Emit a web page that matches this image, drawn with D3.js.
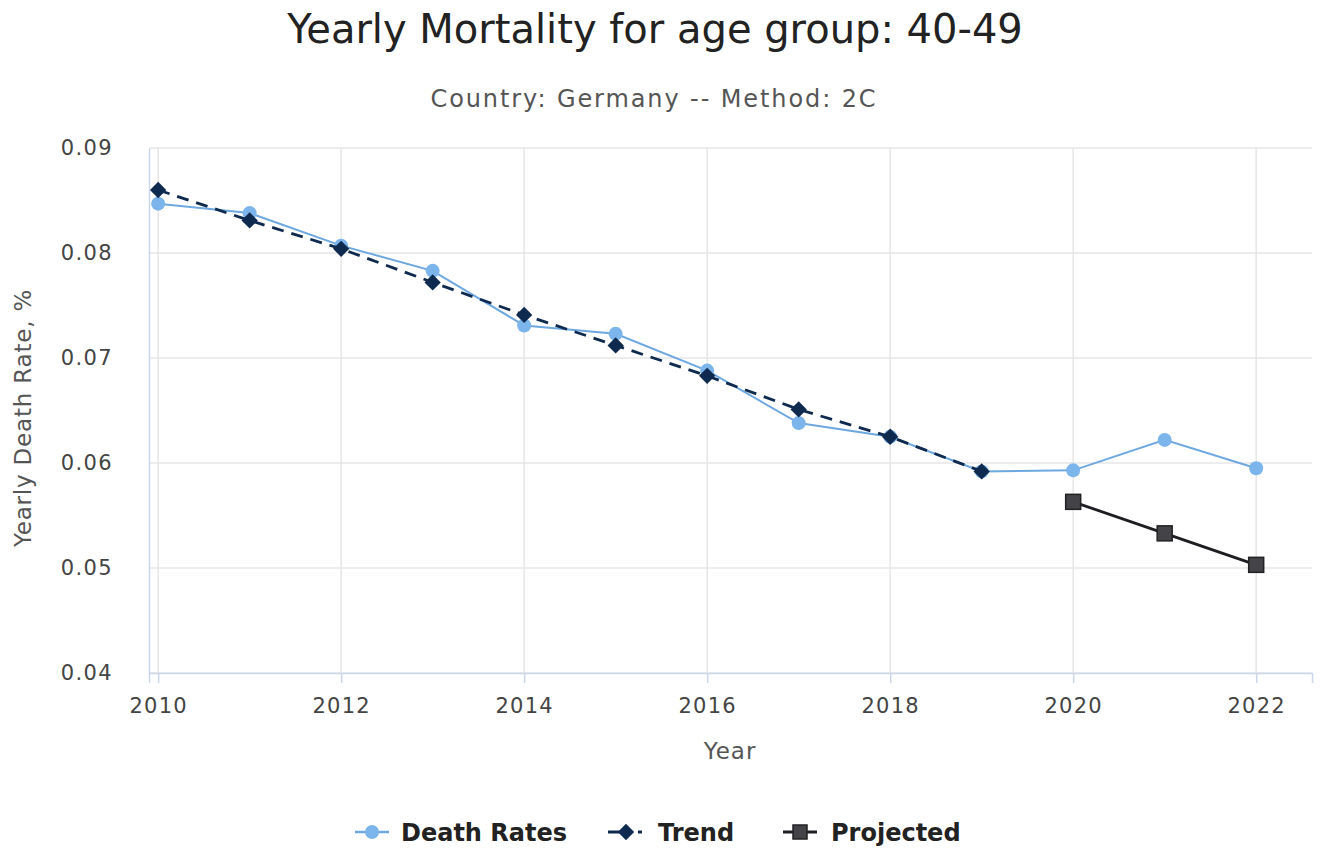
<!DOCTYPE html>
<html><head><meta charset="utf-8">
<script src="https://cdn.jsdelivr.net/npm/d3@7"></script>
<style>body{margin:0;background:#fff}svg{display:block}text{font-family:"DejaVu Sans",sans-serif}</style>
</head><body>
<svg id="chart" width="1322" height="852"></svg>
<script>
const years = [2010,2011,2012,2013,2014,2015,2016,2017,2018,2019,2020,2021,2022];
const deathRates = [0.0847,0.0838,0.0807,0.0783,0.0731,0.0723,0.0688,0.0638,0.0625,0.0592,0.0593,0.0622,0.0595];
const trendYears = [2010,2011,2012,2013,2014,2015,2016,2017,2018,2019];
const trend = [0.0860,0.0831,0.0804,0.0772,0.0741,0.0712,0.0683,0.0651,0.0625,0.0592];
const projYears = [2020,2021,2022];
const projected = [0.0563,0.0533,0.0503];
const xTicks = [2010,2012,2014,2016,2018,2020,2022];
const yTicks = [0.04,0.05,0.06,0.07,0.08,0.09];
const titleText = "Yearly Mortality for age group: 40-49";
const subtitleText = "Country: Germany -- Method: 2C";
const seriesNames = ["Death Rates","Trend","Projected"];

const svg = d3.select("#chart");
const L=149,R=1312,T=148,B=673;
const x = d3.scaleLinear().domain([2009.9,2022.61]).range([L,R]);
const y = d3.scaleLinear().domain([0.04,0.09]).range([B,T]);

svg.append("text").attr("x",655).attr("y",43).attr("text-anchor","middle")
  .attr("font-size",40).attr("fill","#222").text(titleText);
svg.append("text").attr("x",654).attr("y",107).attr("text-anchor","middle")
  .attr("font-size",24).attr("letter-spacing",1.9).attr("fill","#555").text(subtitleText);

// grid
const g = svg.append("g");
g.selectAll(".hg").data(yTicks).join("line").attr("x1",L).attr("x2",R)
  .attr("y1",d=>y(d)).attr("y2",d=>y(d)).attr("stroke","#e6e6e6").attr("stroke-width",1.5);
g.selectAll(".vg").data(xTicks).join("line").attr("y1",T).attr("y2",B)
  .attr("x1",d=>x(d)).attr("x2",d=>x(d)).attr("stroke","#e6e6e6").attr("stroke-width",1.5);

// axes
const xAxis = d3.axisBottom(x).tickValues(xTicks).tickFormat(d3.format("d")).tickSize(10).tickPadding(15);
const xa = svg.append("g").attr("transform",`translate(0,${B})`).call(xAxis);
xa.select(".domain").attr("stroke","#ccd6eb").attr("stroke-width",1.5);
xa.selectAll(".tick line").attr("stroke","#ccd6eb").attr("stroke-width",1.5);
xa.selectAll("text").attr("font-size",21).attr("letter-spacing",1.2).attr("fill","#444").attr("font-family","DejaVu Sans");

const yAxis = d3.axisLeft(y).tickValues(yTicks).tickFormat(d3.format(".2f")).tickSize(0).tickPadding(36);
const ya = svg.append("g").attr("transform",`translate(${L},0)`).call(yAxis);
ya.select(".domain").attr("stroke","#ccd6eb").attr("stroke-width",1.5);
ya.selectAll("text").attr("font-size",21).attr("letter-spacing",1.4).attr("fill","#444").attr("font-family","DejaVu Sans");

svg.append("text").attr("x",730).attr("y",759).attr("text-anchor","middle")
  .attr("font-size",23).attr("letter-spacing",1).attr("fill","#555").text("Year");
svg.append("text").attr("transform","translate(31,418) rotate(-90)").attr("text-anchor","middle")
  .attr("font-size",23).attr("letter-spacing",0.8).attr("fill","#555").text("Yearly Death Rate, %");

const line = d3.line().x(d=>x(d[0])).y(d=>y(d[1]));
const drData = years.map((yr,i)=>[yr,deathRates[i]]);
const trData = trendYears.map((yr,i)=>[yr,trend[i]]);
const prData = projYears.map((yr,i)=>[yr,projected[i]]);

const cBlue="#7cb5ec", cBlueLine="#6ea8e0", cNavy="#0f2a4f", cGray="#434348";

svg.append("path").datum(drData).attr("d",line).attr("fill","none").attr("stroke",cBlueLine).attr("stroke-width",2);
svg.selectAll(".dr").data(drData).join("circle").attr("cx",d=>x(d[0])).attr("cy",d=>y(d[1])).attr("r",7).attr("fill",cBlue);

svg.append("path").datum(trData).attr("d",line).attr("fill","none").attr("stroke",cNavy).attr("stroke-width",2.8).attr("stroke-dasharray","12,8");
const diamond = d3.symbol().type(d3.symbolDiamond2).size(170);
svg.selectAll(".tr").data(trData).join("path").attr("d",diamond)
  .attr("transform",d=>`translate(${x(d[0])},${y(d[1])})`).attr("fill",cNavy);

svg.append("path").datum(prData).attr("d",line).attr("fill","none").attr("stroke","#1e1e22").attr("stroke-width",2.8);
svg.selectAll(".pr").data(prData).join("rect").attr("x",d=>x(d[0])-7.5).attr("y",d=>y(d[1])-7.5)
  .attr("width",15).attr("height",15).attr("fill",cGray).attr("stroke","#222").attr("stroke-width",1.5);

// legend
const lg = svg.append("g");
const items = [
  {name:seriesNames[0],tx:401},
  {name:seriesNames[1],tx:658},
  {name:seriesNames[2],tx:831}];
const ly = 832;
lg.append("line").attr("x1",355).attr("x2",389).attr("y1",ly).attr("y2",ly).attr("stroke",cBlueLine).attr("stroke-width",2.5);
lg.append("circle").attr("cx",372).attr("cy",ly).attr("r",7).attr("fill",cBlue);
lg.append("line").attr("x1",608).attr("x2",630).attr("y1",ly).attr("y2",ly).attr("stroke",cNavy).attr("stroke-width",3);
lg.append("line").attr("x1",638).attr("x2",642).attr("y1",ly).attr("y2",ly).attr("stroke",cNavy).attr("stroke-width",3);
lg.append("path").attr("d",diamond).attr("transform",`translate(626,${ly})`).attr("fill",cNavy);
lg.append("line").attr("x1",783).attr("x2",817).attr("y1",ly).attr("y2",ly).attr("stroke","#1e1e22").attr("stroke-width",3);
lg.append("rect").attr("x",793).attr("y",ly-7).attr("width",14).attr("height",14).attr("fill",cGray).attr("stroke","#222").attr("stroke-width",1.5);
items.forEach(it=>{
  lg.append("text").attr("x",it.tx).attr("y",ly+9).attr("font-size",24).attr("font-weight","bold").attr("fill","#222").text(it.name);
});
</script>
</body></html>
